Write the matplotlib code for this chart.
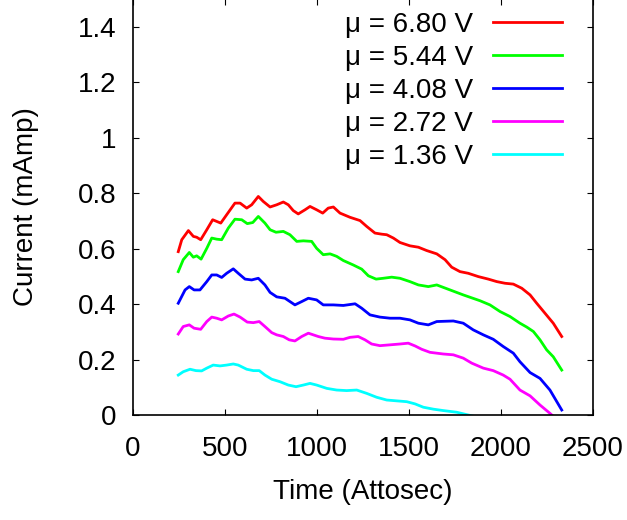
# --------------------------------------------------------------------------- #
#        Current vs time for five bias voltages, gnuplot look-alike            #
# --------------------------------------------------------------------------- #
import numpy as np
import matplotlib
matplotlib.use('Agg')
import matplotlib.pyplot as plt

plt.rcParams['font.family'] = ['Liberation Sans', 'DejaVu Sans']

# --------------------------------------------------------------------------- #
# Data (time in attosec, current in mAmp).
labels = ['\u03bc = 6.80 V', '\u03bc = 5.44 V', '\u03bc = 4.08 V',
          '\u03bc = 2.72 V', '\u03bc = 1.36 V']
colours = ['#ff0000', '#00ff00', '#0000ff', '#ff00ff', '#00ffff']

t_red = [246, 265, 301, 328, 346, 368, 401, 433, 455, 477, 509, 554, 582,
         618, 645, 681, 708, 745, 781, 817, 844, 871, 898, 935, 962, 998,
         1031, 1061, 1089, 1125, 1179, 1234, 1270, 1315, 1352, 1379, 1415,
         1451, 1505, 1551, 1596, 1651, 1696, 1732, 1777, 1822, 1877, 1931,
         1977, 2022, 2067, 2113, 2158, 2194, 2239, 2284, 2330]
i_red = [0.589, 0.632, 0.665, 0.644, 0.641, 0.632, 0.668, 0.704, 0.698,
         0.692, 0.722, 0.764, 0.764, 0.746, 0.758, 0.788, 0.770, 0.750,
         0.758, 0.768, 0.758, 0.737, 0.725, 0.740, 0.752, 0.740, 0.728,
         0.746, 0.750, 0.728, 0.713, 0.701, 0.680, 0.656, 0.652, 0.650,
         0.638, 0.622, 0.610, 0.605, 0.593, 0.581, 0.560, 0.533, 0.517,
         0.511, 0.499, 0.490, 0.481, 0.475, 0.472, 0.457, 0.433, 0.403,
         0.367, 0.331, 0.283]

t_green = [246, 273, 306, 328, 346, 370, 401, 428, 455, 482, 518, 554, 591,
           621, 651, 681, 717, 745, 777, 817, 853, 890, 926, 971, 998, 1034,
           1071, 1107, 1143, 1197, 1243, 1279, 1321, 1360, 1406, 1451, 1505,
           1551, 1605, 1651, 1723, 1795, 1886, 1940, 1995, 2049, 2103, 2140,
           2176, 2212, 2248, 2284, 2330]
i_green = [0.517, 0.560, 0.586, 0.569, 0.574, 0.562, 0.601, 0.638, 0.634,
           0.632, 0.674, 0.706, 0.704, 0.690, 0.694, 0.716, 0.692, 0.668,
           0.659, 0.662, 0.650, 0.626, 0.628, 0.626, 0.601, 0.578, 0.581,
           0.572, 0.557, 0.541, 0.526, 0.502, 0.490, 0.493, 0.497, 0.493,
           0.481, 0.469, 0.463, 0.469, 0.451, 0.433, 0.412, 0.397, 0.373,
           0.355, 0.331, 0.317, 0.301, 0.271, 0.235, 0.210, 0.162]

t_blue = [246, 283, 306, 332, 364, 401, 428, 455, 482, 509, 545, 572, 609,
          645, 681, 717, 745, 781, 826, 880, 917, 953, 998, 1034, 1089, 1143,
          1207, 1243, 1288, 1342, 1397, 1451, 1505, 1551, 1605, 1651, 1741,
          1795, 1849, 1904, 1958, 2012, 2067, 2103, 2158, 2212, 2266, 2330]
i_blue = [0.403, 0.451, 0.463, 0.451, 0.451, 0.481, 0.505, 0.505, 0.496,
          0.511, 0.527, 0.511, 0.490, 0.487, 0.493, 0.469, 0.442, 0.426,
          0.421, 0.397, 0.409, 0.421, 0.415, 0.397, 0.397, 0.395, 0.401,
          0.385, 0.361, 0.353, 0.349, 0.349, 0.343, 0.331, 0.325, 0.337,
          0.339, 0.331, 0.307, 0.289, 0.273, 0.247, 0.223, 0.192, 0.153,
          0.132, 0.090, 0.018]

t_magenta = [246, 273, 306, 332, 368, 401, 428, 455, 482, 518, 549, 582, 621,
             654, 686, 717, 754, 781, 817, 849, 880, 917, 953, 1007, 1043,
             1089, 1143, 1179, 1224, 1261, 1297, 1342, 1397, 1451, 1496, 1533,
             1569, 1614, 1686, 1741, 1795, 1841, 1904, 1958, 2012, 2049, 2103,
             2158, 2212, 2266, 2290]
i_magenta = [0.292, 0.319, 0.325, 0.313, 0.309, 0.337, 0.353, 0.349, 0.343,
             0.357, 0.364, 0.353, 0.335, 0.333, 0.337, 0.319, 0.297, 0.289,
             0.283, 0.271, 0.267, 0.283, 0.295, 0.283, 0.277, 0.274, 0.273,
             0.280, 0.283, 0.271, 0.256, 0.250, 0.253, 0.256, 0.259, 0.249,
             0.237, 0.226, 0.220, 0.217, 0.205, 0.187, 0.169, 0.160, 0.144,
             0.129, 0.090, 0.069, 0.036, 0.006, -0.008]

t_cyan = [246, 273, 310, 342, 373, 401, 436, 473, 509, 545, 572, 618, 654,
          686, 717, 754, 799, 844, 886, 926, 962, 998, 1053, 1107, 1161, 1216,
          1270, 1324, 1379, 1433, 1488, 1533, 1578, 1633, 1686, 1759, 1822,
          1860]
i_cyan = [0.144, 0.156, 0.165, 0.160, 0.159, 0.169, 0.180, 0.177, 0.180,
          0.184, 0.180, 0.165, 0.160, 0.160, 0.144, 0.129, 0.120, 0.108,
          0.102, 0.108, 0.114, 0.108, 0.096, 0.090, 0.088, 0.090, 0.078,
          0.064, 0.054, 0.051, 0.048, 0.040, 0.028, 0.021, 0.016, 0.010,
          0.000, -0.006]

times = [t_red, t_green, t_blue, t_magenta, t_cyan]
currents = [i_red, i_green, i_blue, i_magenta, i_cyan]

# --------------------------------------------------------------------------- #
fig = plt.figure(figsize=(6.27, 5.2), dpi=100)
ax = fig.add_axes([133/627., 1 - 415/520., 460/627., 416/520.])

for t, i, c, lab in zip(times, currents, colours, labels):
    ax.plot(t, i, color=c, lw=2.0, label=lab)

ax.set_xlim(0, 2500)
ax.set_ylim(0, 1.5)
ax.set_xticks(np.arange(0, 2501, 500))
ax.set_yticks([0, 0.2, 0.4, 0.6, 0.8, 1.0, 1.2, 1.4])
ax.set_yticklabels(['0', '0.2', '0.4', '0.6', '0.8', '1', '1.2', '1.4'])

ax.tick_params(direction='in', top=True, right=True, length=4, width=0.8,
               labelsize=20)
ax.tick_params(axis='x', pad=15)
ax.tick_params(axis='y', pad=12)
for s in ax.spines.values():
    s.set_linewidth(1.2)

ax.set_xlabel('Time (Attosec)', fontsize=20)
ax.set_ylabel('Current (mAmp)', fontsize=20)
ax.xaxis.set_label_coords(0.5, -0.155)
ax.yaxis.set_label_coords(-0.205, 0.5)

# Legend: text on the left, line sample on the right, no frame.
ax.legend(loc='upper right', bbox_to_anchor=(562/627., 1 - 12/520.),
          bbox_transform=fig.transFigure, frameon=False, fontsize=20,
          markerfirst=False, handlelength=2.5, handletextpad=0.7,
          labelspacing=0.25, borderpad=0, borderaxespad=0)

fig.savefig('out.png', dpi=100)
